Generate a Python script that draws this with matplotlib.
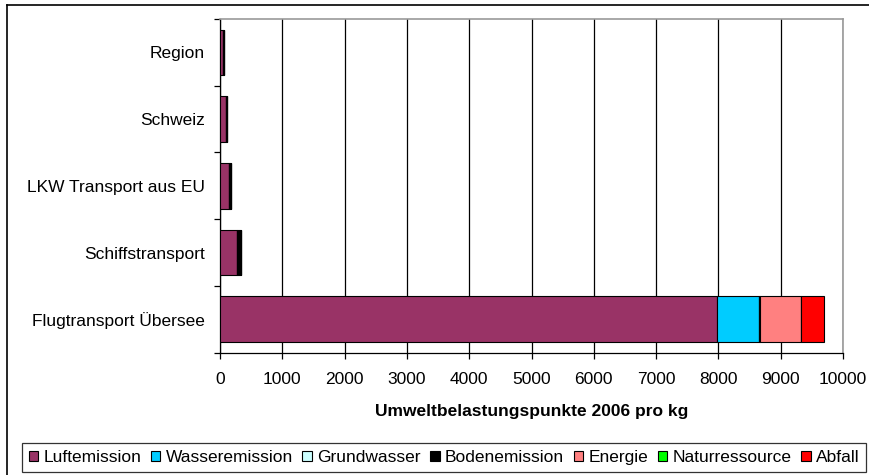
import matplotlib.pyplot as plt
import numpy as np
from matplotlib.lines import Line2D

plt.rcParams['font.family'] = ['Liberation Sans', 'DejaVu Sans']

categories = ["Flugtransport Übersee", "Schiffstransport", "LKW Transport aus EU", "Schweiz", "Region"]
series = ["Luftemission", "Wasseremission", "Grundwasser", "Bodenemission", "Energie", "Naturressource", "Abfall"]
colors = ["#993366", "#00CCFF", "#CCFFFF", "#000000", "#FF8080", "#00FF00", "#FF0000"]

luft = [7970, 275, 145, 95, 45]
wasser = [680, 0, 0, 0, 0]
grundwasser = [0, 0, 0, 0, 0]
boden = [10, 60, 35, 25, 25]
energie = [665, 0, 0, 0, 0]
natur = [0, 0, 0, 0, 0]
abfall = [365, 0, 0, 0, 0]

values = [luft, wasser, grundwasser, boden, energie, natur, abfall]

fig = plt.figure(figsize=(8.7, 4.75), dpi=100)
ax = fig.add_axes([220/870, 1-352.7/475, 623/870, (352.7-19)/475])

y = np.arange(len(categories))
left = np.zeros(len(categories))
for name, vals, c in zip(series, values, colors):
    vals = np.array(vals, dtype=float)
    ax.barh(y, vals, left=left, height=0.685, color=c, edgecolor="black", linewidth=0.8, label=name, zorder=3)
    left += vals

ax.set_xlim(0, 10000)
ax.set_ylim(-0.5, 4.5)
ax.set_xticks(np.arange(0, 10001, 1000))
ax.xaxis.grid(True, color="black", linewidth=0.9, zorder=0)
ax.set_yticks(y)
ax.set_yticklabels(categories, fontsize=12.5)
ax.set_yticks(np.arange(-0.5, 4.6, 1), minor=True)
ax.tick_params(axis="y", which="major", length=0, pad=11)
ax.tick_params(axis="y", which="minor", length=4, width=0.9, direction="out")
ax.tick_params(axis="x", length=4, width=0.9, direction="out", pad=10, labelsize=12.5)

for s in ["top", "right"]:
    ax.spines[s].set_color("#999999")
    ax.spines[s].set_linewidth(1.2)
for s in ["left", "bottom"]:
    ax.spines[s].set_color("black")
    ax.spines[s].set_linewidth(0.9)

ax.set_xlabel("Umweltbelastungspunkte 2006 pro kg", fontsize=12.5, fontweight="bold", labelpad=12)

leg = fig.legend(loc="center", bbox_to_anchor=(444/870, 1-457.4/475), ncol=7, fontsize=12.5,
                 handlelength=0.55, handleheight=0.55, handletextpad=0.3, columnspacing=0.55,
                 frameon=True, fancybox=False, borderpad=0.4, borderaxespad=0)
leg.get_frame().set_edgecolor("black")
leg.get_frame().set_linewidth(0.9)

# outer chart frame
fig.add_artist(Line2D([7/870, 7/870], [0, 1-5/475], color="black", linewidth=1.2))
fig.add_artist(Line2D([7/870, 1], [1-5/475, 1-5/475], color="black", linewidth=1.2))

fig.savefig("out.png", dpi=100)
